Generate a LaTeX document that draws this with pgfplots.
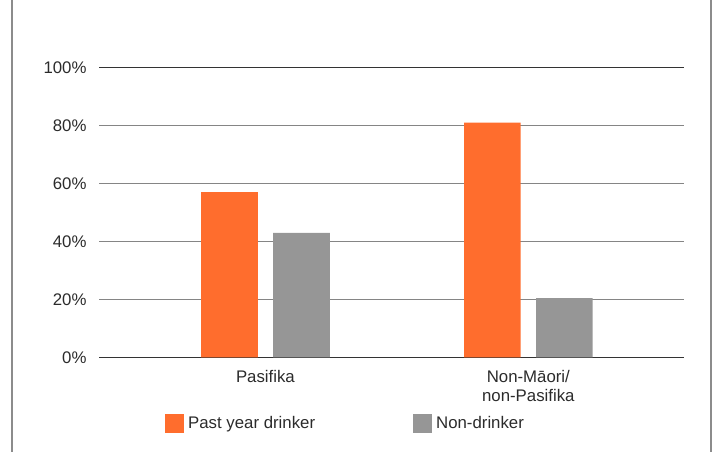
\documentclass[border=0pt]{standalone}
\usepackage{pgfplots}
\pgfplotsset{compat=1.18}
\usepackage{fontspec}
\setmainfont{Liberation Sans}
\definecolor{orng}{HTML}{FF6D2D}
\definecolor{gry}{HTML}{969696}
\definecolor{txt}{HTML}{2B2B2B}
\definecolor{gridc}{HTML}{858585}
\definecolor{darkl}{HTML}{333333}
\begin{document}
\begin{tikzpicture}
\path[use as bounding box] (0pt,0pt) rectangle (716pt,452pt);
\draw[gray!90, line width=1.5pt] (12pt,0pt) -- (12pt,452pt) (711pt,0pt) -- (711pt,452pt);
\begin{axis}[
  at={(99pt,94.5pt)}, anchor=south west,
  scale only axis, width=585pt, height=290pt,
  xmin=-0.633, xmax=1.592, ymin=0, ymax=100,
  axis line style={draw=none},
  major tick length=0pt,
  xtick={0,1},
  xticklabels={Pasifika,{Non-Māori/\\non-Pasifika}},
  xticklabel style={align=center, anchor=north, inner sep=0pt, yshift=-12.6pt,
     font=\fontsize{16.8}{19.5}\selectfont, text=txt},
  ytick={20,40,60,80},
  yticklabels={20\%,40\%,60\%,80\%},
  extra y ticks={0,100},
  extra y tick labels={0\%,100\%},
  extra y tick style={grid style={darkl, line width=1.6pt}},
  yticklabel style={anchor=east, inner sep=0pt, xshift=-12.3pt,
     font=\fontsize{16.8}{19.5}\selectfont, text=txt},
  /pgf/number format/assume math mode=true,
  ymajorgrids,
  grid style={gridc, line width=1.6pt},
  ybar, bar width=56.7pt,
  legend columns=2,
  legend style={at={(0.1128,-0.2269)}, anchor=west, draw=none, fill=none,
     inner sep=0pt, font=\fontsize{16.8}{19.5}\selectfont, text=txt,
     /tikz/every even column/.append style={column sep=98pt},
     nodes={inner sep=0pt}},
  legend image code/.code={\fill[#1] (0pt,-9.5pt) rectangle (19pt,9.5pt);},
  legend cell align=left,
]
\addplot[fill=orng, draw=none, bar shift=-36pt] coordinates {(0,57) (1,81)};
\addlegendentry{\hspace{4pt}Past year drinker}
\addplot[fill=gry, draw=none, bar shift=36pt] coordinates {(0,43) (1,20.5)};
\addlegendentry{\hspace{4pt}Non-drinker}
\end{axis}
\end{tikzpicture}
\end{document}
